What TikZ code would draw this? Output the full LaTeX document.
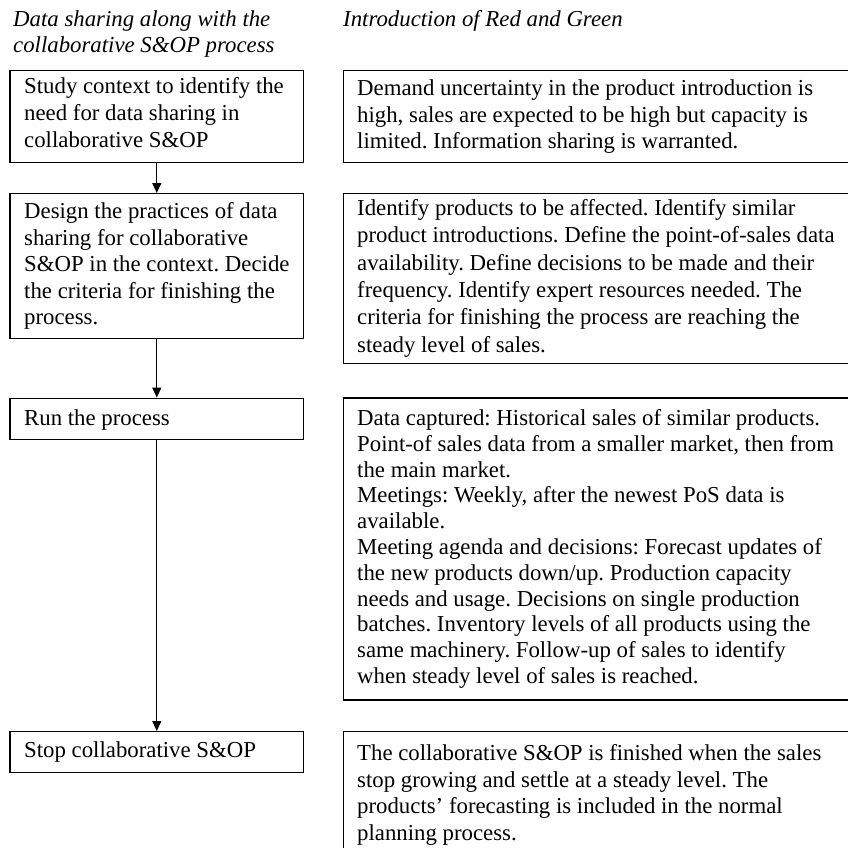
\documentclass[tikz,border=0pt]{standalone}
\usepackage{fontspec}
\setmainfont{Liberation Serif}
\usetikzlibrary{arrows.meta}

\begin{document}
\frenchspacing
\begin{tikzpicture}[x=1pt, y=-1pt,
  stage/.style={draw=black, line width=1.3pt, rectangle, inner sep=0pt, anchor=north west},
  leftbox/.style={stage, minimum width=293.7pt},
  rightbox/.style={stage, minimum width=530pt},
  body/.style={align=left, inner sep=0pt, anchor=west, font=\fontsize{22.8}{26.5}\selectfont},
  heading/.style={inner sep=0pt, anchor=base west, font=\fontsize{22.8}{26.5}\selectfont\itshape},
  flow/.style={line width=1.1pt, -{Triangle[length=10pt, width=9pt]}}]

\useasboundingbox (0,0) rectangle (848,847);
\clip (0,0) rectangle (848,847);

% column headings
\node[heading] (hl1) at (13,26) {Data sharing along with the};
\node[heading] (hl2) at (13,52.3) {collaborative S\&OP process};
\node[heading] (hr)  at (343,26) {Introduction of Red and Green};

% process steps (left column)
\node[leftbox, minimum height=92pt]    (L1) at (9.3,70) {};
\node[leftbox, minimum height=144.5pt] (L2) at (9.3,193) {};
\node[leftbox, minimum height=41pt]    (L3) at (9.3,397.5) {};
\node[leftbox, minimum height=41pt]    (L4) at (9.3,731) {};

\node[body, font=\fontsize{22.8}{27.3}\selectfont] (tL1) at ([xshift=14.7pt, yshift=4pt]L1.west)
  {Study context to identify the\\ need for data sharing in\\ collaborative S\&OP};
\node[body] (tL2) at ([xshift=14.7pt]L2.west)
  {Design the practices of data\\ sharing for collaborative\\ S\&OP in the context. Decide\\ the criteria for finishing the\\ process.};
\node[body] (tL3) at ([xshift=14.7pt, yshift=-1.5pt]L3.west) {Run the process};
\node[body] (tL4) at ([xshift=14.7pt]L4.west) {Stop collaborative S\&OP};

% case description (right column)
\node[rightbox, minimum height=92pt]  (R1) at (342.7,70) {};
\node[rightbox, minimum height=170pt] (R2) at (342.7,192.7) {};
\node[rightbox, minimum height=302pt] (R3) at (342.7,397.3) {};
\node[rightbox, minimum height=127pt] (R4) at (342.7,731) {};

\node[body] (tR1) at ([xshift=14.3pt]R1.west)
  {Demand uncertainty in the product introduction is\\ high, sales are expected to be high but capacity is\\ limited. Information sharing is warranted.};
\node[body, font=\fontsize{22.8}{27.3}\selectfont] (tR2) at ([xshift=14.3pt]R2.west)
  {Identify products to be affected. Identify similar\\ product introductions. Define the point-of-sales data\\ availability. Define decisions to be made and their\\ frequency. Identify expert resources needed. The\\ criteria for finishing the process are reaching the\\ steady level of sales.};
\node[body, font=\fontsize{22.8}{25.8}\selectfont] (tR3) at ([xshift=14.3pt]R3.west)
  {Data captured: Historical sales of similar products.\\ Point-of sales data from a smaller market, then from\\ the main market.\\ Meetings: Weekly, after the newest PoS data is\\ available.\\ Meeting agenda and decisions: Forecast updates of\\ the new products down/up. Production capacity\\ needs and usage. Decisions on single production\\ batches. Inventory levels of all products using the\\ same machinery. Follow-up of sales to identify\\ when steady level of sales is reached.};
\node[body] (tR4) at ([xshift=14.3pt]R4.west)
  {The collaborative S\&OP is finished when the sales\\ stop growing and settle at a steady level. The\\ products’ forecasting is included in the normal\\ planning process.};

% sequence arrows
\draw[flow] (L1.south) -- (L2.north);
\draw[flow] (L2.south) -- (L3.north);
\draw[flow] (L3.south) -- (L4.north);
\end{tikzpicture}
\end{document}
